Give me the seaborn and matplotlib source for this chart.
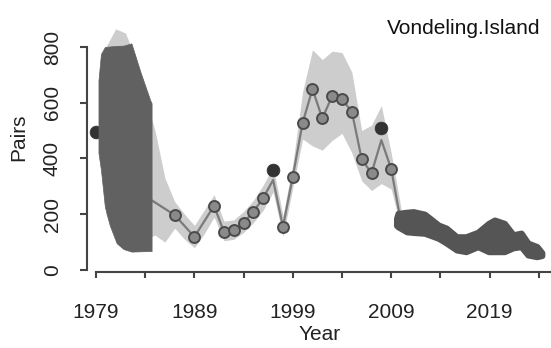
import matplotlib
matplotlib.use("Agg")
import matplotlib.pyplot as plt
import seaborn as sns
import pandas as pd
from matplotlib.ticker import FixedLocator

# ---- data -----------------------------------------------------------------
# observed counts (grey circles)
obs_years = [1987, 1989, 1991, 1992, 1993, 1994, 1995, 1996, 1998, 1999,
             2000, 2001, 2002, 2003, 2004, 2005, 2006, 2007, 2009]
obs_pairs = [197, 119, 230, 137, 143, 170, 209, 259, 155, 335,
             528, 649, 544, 624, 612, 568, 398, 347, 362]

# counts flagged separately (dark dots)
flag_years = [1979, 1997, 2008]
flag_pairs = [495, 359, 508]

# fitted trend
trend_years = [1984, 1987, 1989, 1991, 1992, 1993, 1994, 1995, 1996, 1997,
               1998, 1999, 2000, 2001, 2002, 2003, 2004, 2005, 2006, 2007,
               2008, 2009, 2010]
trend_pairs = [265, 197, 119, 230, 137, 143, 170, 209, 259, 323,
               155, 335, 528, 649, 544, 624, 612, 568, 398, 347,
               466, 362, 170]

# confidence band of the trend
band_years = list(range(1980, 2011))
band_lo = [200, 110, 85, 85, 110, 125, 100, 150, 110, 80, 130, 190, 105,
           110, 135, 170, 215, 280, 120, 295, 470, 445, 430, 465, 490, 420,
           320, 285, 310, 290, 150]
band_hi = [800, 865, 850, 760, 620, 500, 330, 245, 200, 160, 215, 270, 175,
           180, 210, 250, 305, 370, 195, 380, 640, 790, 755, 785, 780, 710,
           500, 520, 590, 420, 220]

# early reconstructed range
early_years = [1979.25, 1979.5, 1979.9, 1980.4, 1981.1, 1981.8, 1982.6, 1983.5,
               1984.5, 1984.65]
early_lo = [420, 360, 227, 160, 96, 75, 66, 67, 68, 68]
early_hi = [680, 775, 800, 802, 804, 805, 813, 712, 610, 598]

# recent estimated range
late_years = [2009.55, 2009.7, 2010.6, 2011.25, 2012.4, 2013.8, 2014.6, 2015.65,
              2016.6, 2017.8, 2018.9, 2019.5, 2020.5, 2021.4, 2022.2, 2022.9,
              2023.8, 2024.3]
late_lo = [160, 155, 137, 135, 132, 114, 97, 72, 66, 84, 66, 66, 66, 80, 84,
           54, 48, 52]
late_hi = [185, 203, 207, 209, 200, 161, 150, 119, 119, 135, 167, 179, 167,
           126, 132, 96, 84, 62]

x_ticks = [1979, 1984, 1989, 1994, 1999, 2004, 2009, 2014, 2019, 2024]
x_tick_labels = ["1979", "", "1989", "", "1999", "", "2009", "", "2019", ""]
y_ticks = [0, 200, 400, 600, 800]
colony = "Vondeling.Island"

# ---- figure ----------------------------------------------------------------
sns.set_theme(style="white")
plt.rcParams["font.family"] = ["Liberation Sans", "DejaVu Sans"]

fig = plt.figure(figsize=(5.51, 3.48), dpi=100)
ax = fig.add_axes([87 / 551, 76 / 348, 464 / 551, 272 / 348])

band_col = "#cdcdcd"
dark_col = "#616161"
line_col = "#7a7a7a"

ax.fill_between(band_years, band_lo, band_hi, color=band_col, lw=0, zorder=1)

trend = pd.DataFrame({"Year": trend_years, "Pairs": trend_pairs})
sns.lineplot(data=trend, x="Year", y="Pairs", ax=ax, color=line_col,
             linewidth=1.6, zorder=2)

obs = pd.DataFrame({"Year": obs_years, "Pairs": obs_pairs})
sns.scatterplot(data=obs, x="Year", y="Pairs", ax=ax, s=62, color="#8a8a8a",
                edgecolor="#4a4a4a", linewidth=1.4, zorder=3)

flag = pd.DataFrame({"Year": flag_years, "Pairs": flag_pairs})
sns.scatterplot(data=flag, x="Year", y="Pairs", ax=ax, s=85, color="#333333",
                edgecolor="#333333", linewidth=0.5, zorder=3)

ax.fill_between(early_years, early_lo, early_hi, color=dark_col,
                edgecolor=dark_col, lw=0.5, zorder=4)
ax.fill_between(late_years, late_lo, late_hi, color="#555555",
                edgecolor="#555555", lw=4.5, joinstyle="round", zorder=4)

# ---- axes styling ------------------------------------------------------------
ax.set_xlim(1978.085, 2025.24)
ax.set_ylim(-7.2, 968.6)
for side in ("top", "right"):
    ax.spines[side].set_visible(False)
for side in ("left", "bottom"):
    ax.spines[side].set_color("#444444")
    ax.spines[side].set_linewidth(1.5)
ax.spines["left"].set_bounds(0, 800)
ax.spines["bottom"].set_bounds(1979, 2025.24)

ax.xaxis.set_major_locator(FixedLocator(x_ticks))
ax.set_xticklabels(x_tick_labels)
ax.set_yticks(y_ticks)
ax.set_yticklabels([str(v) for v in y_ticks], rotation=90, va="center")
ax.tick_params(axis="x", direction="out", length=4, width=1.5,
               color="#444444", pad=18, labelsize=15, labelcolor="#222222",
               bottom=True)
ax.tick_params(axis="y", direction="out", length=5, width=1.5,
               color="#444444", pad=13, labelsize=15, labelcolor="#222222",
               left=True)

ax.set_xlabel("Year", fontsize=15, color="#222222")
ax.set_ylabel("Pairs", fontsize=15, color="#222222")
ax.xaxis.set_label_coords((320 - 87) / 464, (272 - 335) / 272)
ax.xaxis.label.set_va("center")
ax.yaxis.set_label_coords((19 - 87) / 464, (272 - 137) / 272)
ax.yaxis.label.set_va("center")

fig.text(540 / 551, 1 - 28 / 348, colony, ha="right", va="center",
         fontsize=15, color="#111111")

fig.savefig("out.png", dpi=100)
